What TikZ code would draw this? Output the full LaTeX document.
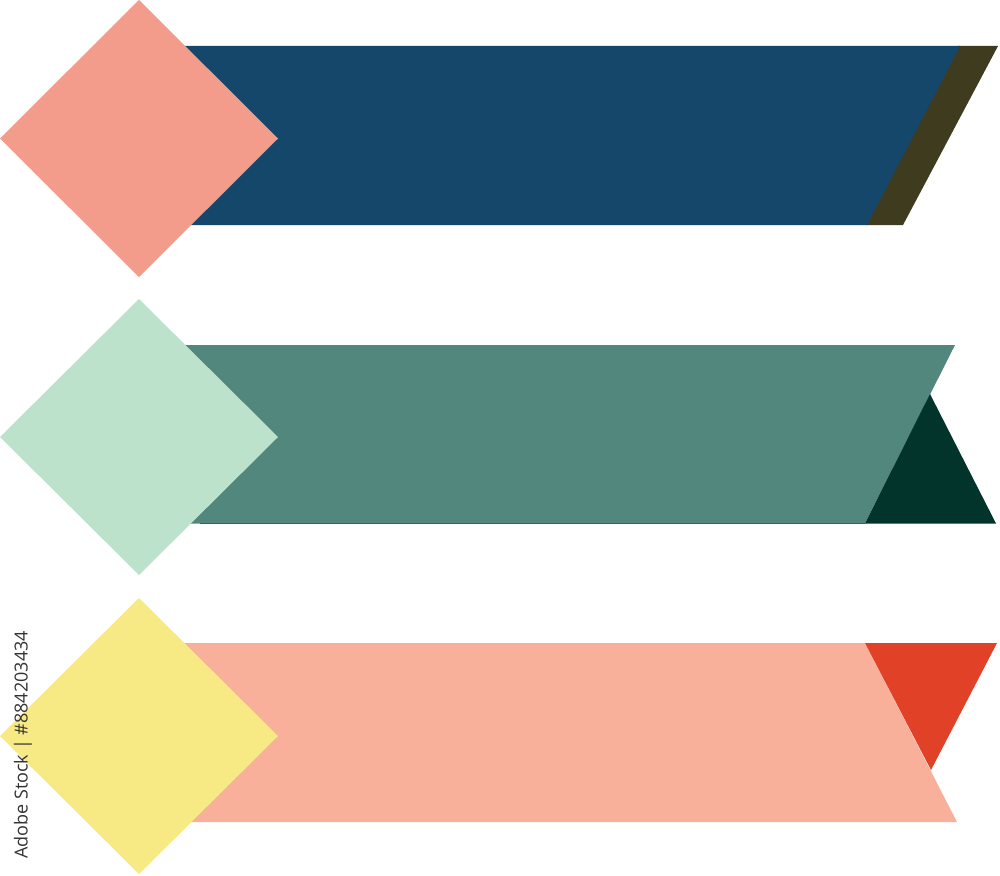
\documentclass[tikz,border=0pt]{standalone}
\usepackage{fontspec}
\setmainfont{Open Sans}
\definecolor{cblue}{HTML}{15476A}
\definecolor{colive}{HTML}{3E3B1F}
\definecolor{csalmon}{HTML}{F39C8C}
\definecolor{cteal}{HTML}{52877E}
\definecolor{cdgreen}{HTML}{03342B}
\definecolor{cmint}{HTML}{BCE2CC}
\definecolor{cpeach}{HTML}{F8B09A}
\definecolor{cred}{HTML}{E04127}
\definecolor{cyellow}{HTML}{F7E983}
\definecolor{cmark}{HTML}{333333}
\begin{document}
\begin{tikzpicture}[x=1pt,y=-1pt]
\useasboundingbox (0,0) rectangle (1000,875);
% banner 1
\fill[colive] (958,46) -- (998,46) -- (903,225) -- (866,225) -- cycle;
\fill[cblue] (185,46) -- (960,46) -- (867,225) -- (185,225) -- cycle;
\fill[csalmon] (139,0) -- (278,138.5) -- (139,277) -- (0,138.5) -- cycle;
% banner 2
\fill[cteal] (185,345) -- (955,345) -- (865,523.5) -- (185,523.5) -- cycle;
\draw[cteal!70!black, line width=0.8pt] (200,523.5) -- (865,523.5);
\fill[cdgreen] (930,394) -- (996,523.5) -- (865,523.5) -- cycle;
\fill[cmint] (139,299) -- (278,437) -- (139,575) -- (0,437) -- cycle;
% banner 3
\fill[cpeach] (185,643) -- (865,643) -- (957,822) -- (185,822) -- cycle;
\fill[cred] (865,643) -- (997,643) -- (931,770) -- cycle;
\fill[cyellow] (139,598) -- (278,736) -- (139,874) -- (0,736) -- cycle;
% watermark id
\node[rotate=90, text=cmark, inner sep=0pt, font=\fontsize{18}{18}\selectfont] (wm) at (23,745) {Adobe Stock | \#884203434};
\end{tikzpicture}
\end{document}
